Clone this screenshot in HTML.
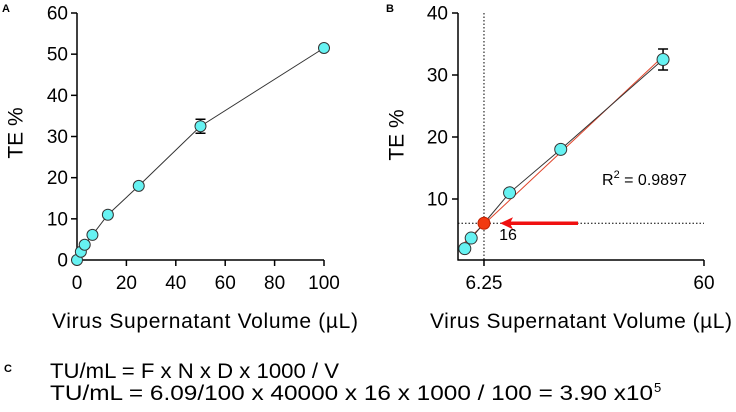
<!DOCTYPE html>
<html><head><meta charset="utf-8"><style>
html,body{margin:0;padding:0;background:#fff;}
svg{display:block;font-family:"Liberation Sans",Arial,sans-serif;}
</style></head><body>
<svg id="fig" width="736" height="412" viewBox="0 0 736 412" xmlns="http://www.w3.org/2000/svg">
<text x="2" y="12" font-size="11" font-weight="bold">A</text>
<text x="386" y="12" font-size="11" font-weight="bold">B</text>
<text x="4" y="372" font-size="11" font-weight="bold">C</text>
<text x="17" y="133" font-size="21" text-anchor="middle" dominant-baseline="middle" transform="rotate(-90 17 133)">TE %</text>
<text x="205" y="328" font-size="21" text-anchor="middle" textLength="306">Virus Supernatant Volume (µL)</text>
<text x="398" y="135" font-size="21" text-anchor="middle" dominant-baseline="middle" transform="rotate(-90 398 135)">TE %</text>
<text x="581" y="328" font-size="21" text-anchor="middle" textLength="302">Virus Supernatant Volume (µL)</text>
<text x="602" y="185" font-size="16">R<tspan font-size="11" dy="-7">2</tspan><tspan dy="7"> = 0.9897</tspan></text>
<text x="50" y="378" font-size="21" textLength="289" lengthAdjust="spacingAndGlyphs">TU/mL = F x N x D x 1000 / V</text>
<text x="50" y="400" font-size="21" textLength="603" lengthAdjust="spacingAndGlyphs">TU/mL = 6.09/100 x 40000 x 16 x 1000 / 100 = 3.90 x10</text>
<text x="654" y="392" font-size="13">5</text>
<g id="chartA"></g>
<g id="chartB"></g>
</svg>
<script>
const volA = [0, 1.5625, 3.125, 6.25, 12.5, 25, 50, 100];
const teA = [0, 2, 3.7, 6.09, 11, 18, 32.5, 51.5];
const errA = [0, 0, 0, 0, 0, 0, 1.7, 0];
const xTicksA = [0, 20, 40, 60, 80, 100];
const yTicksA = [0, 10, 20, 30, 40, 50, 60];
const volB = [1.5625, 3.125, 12.5, 25, 50];
const teB = [2, 3.7, 11, 18, 32.5];
const errB = [0, 0, 0, 0, 1.7];
const xTicksB = [6.25, 60];
const xTickLabelsB = ["6.25", "60"];
const yTicksB = [10, 20, 30, 40];
const targetX = [6.25];
const targetY = [6.09];
const targetLabel = ["16"];
const NS = "http://www.w3.org/2000/svg";
function mk(parent, tag, attrs, text) {
  const e = document.createElementNS(NS, tag);
  for (const k in attrs) e.setAttribute(k, attrs[k]);
  if (text !== undefined) e.textContent = text;
  parent.appendChild(e);
  return e;
}
// Panel A
const gA = document.getElementById('chartA');
const xA = v => 77 + v / 100 * 247;
const yA = v => 260 - v / 60 * 247;
let el;
el = mk(gA, 'line', {x1: 77, y1: 13, x2: 77, y2: 260.5, stroke: '#000', 'stroke-width': 1.5});
 
el = mk(gA, 'line', {x1: 76.5, y1: 260, x2: 324, y2: 260, stroke: '#000', 'stroke-width': 1.5});
 
yTicksA.forEach(t => {
  mk(gA, 'line', {x1: 71, y1: yA(t), x2: 77, y2: yA(t), stroke: '#000', 'stroke-width': 1.5});
  el = mk(gA, 'text', {x: 68, y: yA(t) + 6.5, 'font-size': 19, 'text-anchor': 'end'}, String(t));
   
});
xTicksA.forEach(t => {
  mk(gA, 'line', {x1: xA(t), y1: 260, x2: xA(t), y2: 266, stroke: '#000', 'stroke-width': 1.5});
  el = mk(gA, 'text', {x: xA(t), y: 289, 'font-size': 19, 'text-anchor': 'middle'}, String(t));
   
});
el = mk(gA, 'polyline', {points: volA.map((v, i) => xA(v) + ',' + yA(teA[i])).join(' '), fill: 'none', stroke: '#333', 'stroke-width': 1});
 
volA.forEach((v, i) => {
  if (errA[i] > 0) {
    const cx = xA(v), t = yA(teA[i] + errA[i]), b = yA(teA[i] - errA[i]);
    mk(gA, 'path', {d: `M${cx},${t}V${b}M${cx-5},${t}H${cx+5}M${cx-5},${b}H${cx+5}`, stroke: '#000', 'stroke-width': 1.5, fill: 'none'});
  }
  el = mk(gA, 'circle', {cx: xA(v), cy: yA(teA[i]), r: 5.5, fill: '#66f2f2', stroke: '#333', 'stroke-width': 1});
   
});
// Panel B
const gB = document.getElementById('chartB');
const xB = v => 458.4 + v * (220 / 53.75);
const yB = v => 261 - v * 6.2;
el = mk(gB, 'line', {x1: 458, y1: 13, x2: 458, y2: 260.5, stroke: '#000', 'stroke-width': 1.5});
 
el = mk(gB, 'line', {x1: 457.5, y1: 260, x2: 704, y2: 260, stroke: '#000', 'stroke-width': 1.5});
 
yTicksB.forEach(t => {
  mk(gB, 'line', {x1: 452, y1: yB(t), x2: 458, y2: yB(t), stroke: '#000', 'stroke-width': 1.5});
  el = mk(gB, 'text', {x: 448, y: yB(t) + 6.5, 'font-size': 19, 'text-anchor': 'end'}, String(t));
   
});
xTicksB.forEach((t, i) => {
  mk(gB, 'line', {x1: xB(t), y1: 260, x2: xB(t), y2: 266, stroke: '#000', 'stroke-width': 1.5});
  el = mk(gB, 'text', {x: xB(t), y: 289, 'font-size': 19, 'text-anchor': 'middle'}, xTickLabelsB[i]);
   
});
el = mk(gB, 'line', {x1: xB(targetX[0]), y1: 13, x2: xB(targetX[0]), y2: 260, stroke: '#000', 'stroke-width': 1, 'stroke-dasharray': '1.5,2'});
 
el = mk(gB, 'line', {x1: 458, y1: yB(targetY[0]), x2: 704, y2: yB(targetY[0]), stroke: '#000', 'stroke-width': 1, 'stroke-dasharray': '1.5,2'});
 
const allX = volB.concat(targetX), allY = teB.concat(targetY);
const n = allX.length, mx = allX.reduce((a, b) => a + b) / n, my = allY.reduce((a, b) => a + b) / n;
let sxy = 0, sxx = 0;
allX.forEach((x, i) => { sxy += (x - mx) * (allY[i] - my); sxx += (x - mx) * (x - mx); });
const slope = sxy / sxx, icpt = my - slope * mx;
const x0 = Math.min(...allX), x1 = Math.max(...allX);
el = mk(gB, 'line', {x1: xB(x0), y1: yB(icpt + slope * x0), x2: xB(x1), y2: yB(icpt + slope * x1), stroke: '#e0442a', 'stroke-width': 1});
 
const pts = volB.map((v, i) => ({x: v, y: teB[i]})).concat([{x: targetX[0], y: targetY[0]}]).sort((a, b) => a.x - b.x);
el = mk(gB, 'polyline', {points: pts.map(p => xB(p.x) + ',' + yB(p.y)).join(' '), fill: 'none', stroke: '#333', 'stroke-width': 1});
 
volB.forEach((v, i) => {
  if (errB[i] > 0) {
    const cx = xB(v), t = yB(teB[i] + errB[i]), b = yB(teB[i] - errB[i]);
    mk(gB, 'path', {d: `M${cx},${t}V${b}M${cx-5},${t}H${cx+5}M${cx-5},${b}H${cx+5}`, stroke: '#000', 'stroke-width': 1.5, fill: 'none'});
  }
  el = mk(gB, 'circle', {cx: xB(v), cy: yB(teB[i]), r: 6, fill: '#66f2f2', stroke: '#333', 'stroke-width': 1});
   
});
el = mk(gB, 'circle', {cx: xB(targetX[0]), cy: yB(targetY[0]), r: 6, fill: '#f23a10', stroke: '#c02000', 'stroke-width': 1});
 
const ay = yB(targetY[0]), tipX = xB(targetX[0]) + 16;
el = mk(gB, 'path', {d: `M578,${ay}H${tipX + 10}`, stroke: '#f01010', 'stroke-width': 3.5, fill: 'none'});
 
el = mk(gB, 'path', {d: `M${tipX},${ay}L${tipX + 13},${ay - 6}L${tipX + 10},${ay}L${tipX + 13},${ay + 6}Z`, fill: '#f01010'});
 
el = mk(gB, 'text', {x: xB(targetX[0]) + 24, y: ay + 17, 'font-size': 16, 'text-anchor': 'middle'}, targetLabel[0]);
 
</script>
</body></html>
